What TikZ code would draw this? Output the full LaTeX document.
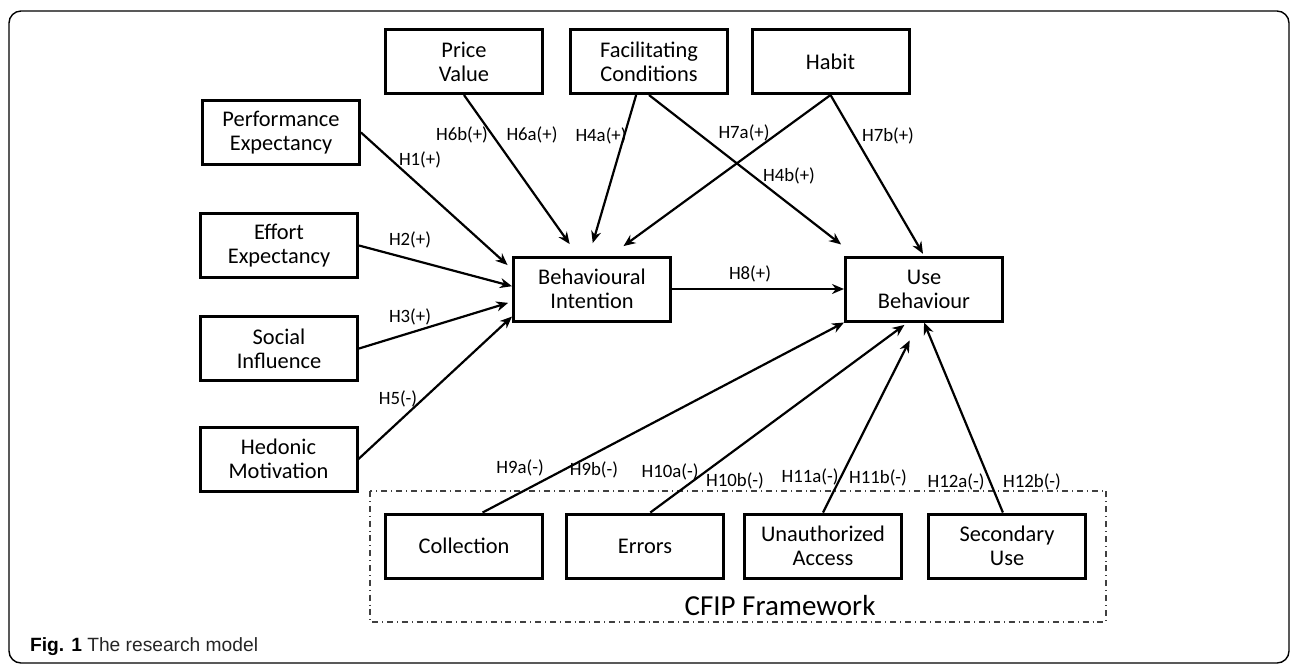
\documentclass[tikz,border=0pt]{standalone}
\usepackage{fontspec}
\setmainfont{Carlito}
\newfontfamily\capfont{Liberation Sans}
\usepackage{tikz}
\usetikzlibrary{arrows.meta}
\tikzset{%
  hyparrow/.style = {-{Stealth[length=6pt,width=5pt]},solid,line width=1.1pt},
  box/.style = {rectangle,draw,solid,line width=1.5pt,minimum width=78.5pt,
        minimum height=32pt,font=\fontsize{11.2}{12}\selectfont},
  hyp/.style = {font=\fontsize{9.4}{10}\selectfont,inner sep=0pt}
}

\begin{document}
\begin{tikzpicture}[
x=0.5pt, y=-0.5pt,
every text node part/.style={align=center}
]
\useasboundingbox (0,0) rectangle (1290,666);
\draw[line width=0.7pt,rounded corners=6pt] (9,11) rectangle (1289,663);
% CFIP part
\draw[dash dot,line width=0.6pt,black!75] (370,491) rectangle (1106,622);
\node[font=\fontsize{14.5}{16}\selectfont] (cfip) at (780,606) {CFIP Framework};

% constructs
\node[box] (pe) at (281,132.5) {Performance\\Expectancy};
\node[box] (ee) at (279,245.5) {Effort\\Expectancy};
\node[box] (si) at (279,348.5) {Social\\Influence};
\node[box] (hm) at (278.5,459) {Hedonic\\Motivation};
\node[box] (pv) at (464,61.5) {Price\\Value};
\node[box] (fc) at (649,61.5) {Facilitating\\Conditions};
\node[box] (habit) at (830.5,61.5) {Habit};
\node[box] (bi) at (592,289) {Behavioural\\Intention};
\node[box] (ub) at (924,289) {Use\\Behaviour};
\node[box] (coll) at (464,546) {Collection};
\node[box] (err) at (645,546) {Errors};
\node[box] (ua) at (823,546) {Unauthorized\\Access};
\node[box] (su) at (1007,546) {Secondary\\Use};

% hypotheses
\draw[hyparrow,shorten >=3pt] (pe.east) -- (bi.166);
\draw[hyparrow] (ee.east) -- (bi.178);
\draw[hyparrow,shorten >=2pt] (si.east) -- (bi.189);
\draw[hyparrow] (hm.east) -- (bi.199);
\draw[hyparrow,shorten >=7pt] (pv.south) -- (bi.113);
\draw[hyparrow,shorten >=6.5pt] (fc.-111) -- (bi.95);
\draw[hyparrow,shorten >=8pt] (habit.south) -- (bi.61);
\draw[hyparrow,shorten >=9pt] (fc.south) -- (ub.154);
\draw[hyparrow,shorten >=1pt] (habit.south) -- (ub.north);
\draw[hyparrow] (bi.east) -- (ub.west);
\draw[hyparrow] (coll.61) -- (ub.south west);
\draw[hyparrow,shorten >=2pt] (err.81) -- (ub.-116);
\draw[hyparrow,shorten >=10pt] (ua.north) -- (ub.-99);
\draw[hyparrow] (su.97) -- (ub.south);

% labels
\node[hyp] (h1) at (420,160) {H1(+)};
\node[hyp] (h2) at (410,240) {H2(+)};
\node[hyp] (h3) at (410,317) {H3(+)};
\node[hyp] (h5) at (398,399) {H5(-)};
\node[hyp] (h6b) at (462,135) {H6b(+)};
\node[hyp] (h6a) at (532,135) {H6a(+)};
\node[hyp] (h4a) at (601,136) {H4a(+)};
\node[hyp] (h7a) at (744,133) {H7a(+)};
\node[hyp] (h4b) at (789,176) {H4b(+)};
\node[hyp] (h7b) at (888,136) {H7b(+)};
\node[hyp] (h8) at (750,274) {H8(+)};
\node[hyp] (h9a) at (520,468) {H9a(-)};
\node[hyp] (h9b) at (594,470) {H9b(-)};
\node[hyp] (h10a) at (670,472) {H10a(-)};
\node[hyp] (h10b) at (735,481) {H10b(-)};
\node[hyp] (h11a) at (810,477) {H11a(-)};
\node[hyp] (h11b) at (878,478) {H11b(-)};
\node[hyp] (h12a) at (956,482) {H12a(-)};
\node[hyp] (h12b) at (1032,482) {H12b(-)};

\node[anchor=west,font=\capfont\fontsize{9.6}{11}\selectfont] (cap) at (23,647)
  {\textbf{Fig. 1} {\color{black!85}The research model}};
\end{tikzpicture}
\end{document}
